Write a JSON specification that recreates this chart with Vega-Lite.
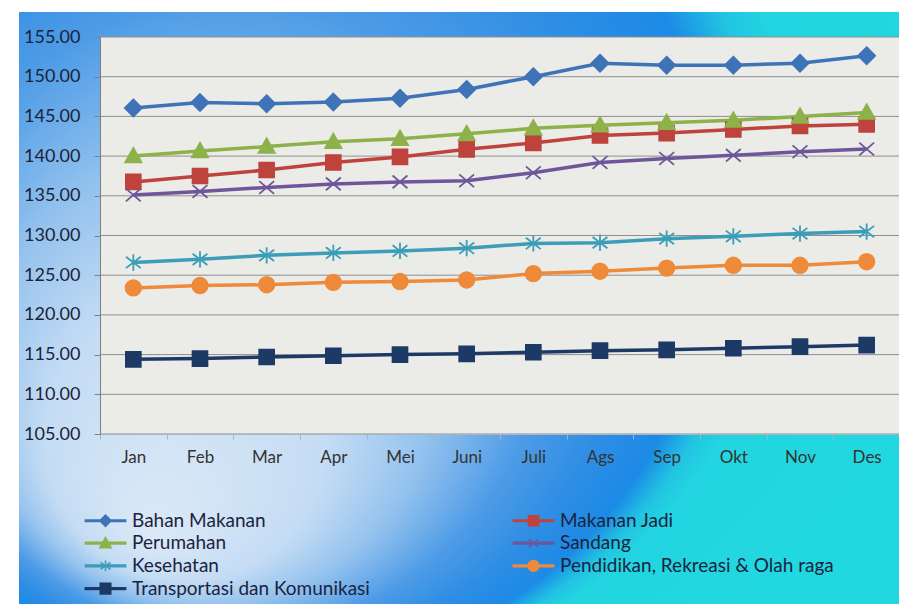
{
  "$schema": "https://vega.github.io/schema/vega-lite/v6.json",
  "width": 880,
  "height": 592,
  "autosize": {"type": "none"},
  "padding": {"left": 19, "top": 12, "right": 0, "bottom": 0},
  "background": "white",
  "config": {
    "font": "Lato",
    "view": {
      "stroke": null,
      "fill": {
        "gradient": "radial",
        "x1": 0.149, "y1": 0.764, "r1": 0,
        "x2": 0.35, "y2": 0.2, "r2": 0.8,
        "stops": [
          {"offset": 0, "color": "#dbe9f7"},
          {"offset": 0.2, "color": "#c4dcf4"},
          {"offset": 0.32, "color": "#94c2ee"},
          {"offset": 0.45, "color": "#4d9be6"},
          {"offset": 0.55, "color": "#2f8ee4"},
          {"offset": 0.64, "color": "#1c8ae6"},
          {"offset": 0.69, "color": "#22c4e2"},
          {"offset": 0.73, "color": "#22d5e0"},
          {"offset": 1, "color": "#22d8e0"}
        ]
      }
    },
    "legend": {
      "title": null, "orient": "none", "legendX": 77, "legendY": 499, "direction": "horizontal", "columns": 2, "columnPadding": 140, "rowPadding": 2.7, "padding": 0,
      "symbolSize": 200, "symbolStrokeWidth": 1.5, "symbolOpacity": 1, "labelOffset": 17, "labelFontSize": 19, "labelColor": "#1c2340", "labelLimit": 400
    }
  },
  "resolve": {"scale": {"color": "independent", "shape": "independent", "stroke": "independent"}},
  "data": {
    "values": [
      {"m": 1, "s": "Bahan Makanan", "v": 146.06},
      {"m": 2, "s": "Bahan Makanan", "v": 146.75},
      {"m": 3, "s": "Bahan Makanan", "v": 146.6},
      {"m": 4, "s": "Bahan Makanan", "v": 146.8},
      {"m": 5, "s": "Bahan Makanan", "v": 147.3},
      {"m": 6, "s": "Bahan Makanan", "v": 148.4},
      {"m": 7, "s": "Bahan Makanan", "v": 150.0},
      {"m": 8, "s": "Bahan Makanan", "v": 151.7},
      {"m": 9, "s": "Bahan Makanan", "v": 151.45},
      {"m": 10, "s": "Bahan Makanan", "v": 151.45},
      {"m": 11, "s": "Bahan Makanan", "v": 151.7},
      {"m": 12, "s": "Bahan Makanan", "v": 152.65},
      {"m": 1, "s": "Makanan Jadi", "v": 136.75},
      {"m": 2, "s": "Makanan Jadi", "v": 137.5},
      {"m": 3, "s": "Makanan Jadi", "v": 138.25},
      {"m": 4, "s": "Makanan Jadi", "v": 139.2},
      {"m": 5, "s": "Makanan Jadi", "v": 139.9},
      {"m": 6, "s": "Makanan Jadi", "v": 140.85},
      {"m": 7, "s": "Makanan Jadi", "v": 141.66},
      {"m": 8, "s": "Makanan Jadi", "v": 142.6},
      {"m": 9, "s": "Makanan Jadi", "v": 142.9},
      {"m": 10, "s": "Makanan Jadi", "v": 143.35},
      {"m": 11, "s": "Makanan Jadi", "v": 143.8},
      {"m": 12, "s": "Makanan Jadi", "v": 144.0},
      {"m": 1, "s": "Perumahan", "v": 140.0},
      {"m": 2, "s": "Perumahan", "v": 140.65},
      {"m": 3, "s": "Perumahan", "v": 141.2},
      {"m": 4, "s": "Perumahan", "v": 141.8},
      {"m": 5, "s": "Perumahan", "v": 142.2},
      {"m": 6, "s": "Perumahan", "v": 142.8},
      {"m": 7, "s": "Perumahan", "v": 143.5},
      {"m": 8, "s": "Perumahan", "v": 143.9},
      {"m": 9, "s": "Perumahan", "v": 144.2},
      {"m": 10, "s": "Perumahan", "v": 144.5},
      {"m": 11, "s": "Perumahan", "v": 145.0},
      {"m": 12, "s": "Perumahan", "v": 145.5},
      {"m": 1, "s": "Sandang", "v": 135.1},
      {"m": 2, "s": "Sandang", "v": 135.55},
      {"m": 3, "s": "Sandang", "v": 136.05},
      {"m": 4, "s": "Sandang", "v": 136.5},
      {"m": 5, "s": "Sandang", "v": 136.75},
      {"m": 6, "s": "Sandang", "v": 136.9},
      {"m": 7, "s": "Sandang", "v": 137.9},
      {"m": 8, "s": "Sandang", "v": 139.2},
      {"m": 9, "s": "Sandang", "v": 139.7},
      {"m": 10, "s": "Sandang", "v": 140.1},
      {"m": 11, "s": "Sandang", "v": 140.55},
      {"m": 12, "s": "Sandang", "v": 140.9},
      {"m": 1, "s": "Kesehatan", "v": 126.6},
      {"m": 2, "s": "Kesehatan", "v": 127.0},
      {"m": 3, "s": "Kesehatan", "v": 127.5},
      {"m": 4, "s": "Kesehatan", "v": 127.8},
      {"m": 5, "s": "Kesehatan", "v": 128.05},
      {"m": 6, "s": "Kesehatan", "v": 128.4},
      {"m": 7, "s": "Kesehatan", "v": 129.0},
      {"m": 8, "s": "Kesehatan", "v": 129.1},
      {"m": 9, "s": "Kesehatan", "v": 129.6},
      {"m": 10, "s": "Kesehatan", "v": 129.9},
      {"m": 11, "s": "Kesehatan", "v": 130.25},
      {"m": 12, "s": "Kesehatan", "v": 130.5},
      {"m": 1, "s": "Pendidikan, Rekreasi & Olah raga", "v": 123.4},
      {"m": 2, "s": "Pendidikan, Rekreasi & Olah raga", "v": 123.7},
      {"m": 3, "s": "Pendidikan, Rekreasi & Olah raga", "v": 123.8},
      {"m": 4, "s": "Pendidikan, Rekreasi & Olah raga", "v": 124.1},
      {"m": 5, "s": "Pendidikan, Rekreasi & Olah raga", "v": 124.2},
      {"m": 6, "s": "Pendidikan, Rekreasi & Olah raga", "v": 124.4},
      {"m": 7, "s": "Pendidikan, Rekreasi & Olah raga", "v": 125.2},
      {"m": 8, "s": "Pendidikan, Rekreasi & Olah raga", "v": 125.5},
      {"m": 9, "s": "Pendidikan, Rekreasi & Olah raga", "v": 125.9},
      {"m": 10, "s": "Pendidikan, Rekreasi & Olah raga", "v": 126.25},
      {"m": 11, "s": "Pendidikan, Rekreasi & Olah raga", "v": 126.25},
      {"m": 12, "s": "Pendidikan, Rekreasi & Olah raga", "v": 126.7},
      {"m": 1, "s": "Transportasi dan Komunikasi", "v": 114.4},
      {"m": 2, "s": "Transportasi dan Komunikasi", "v": 114.5},
      {"m": 3, "s": "Transportasi dan Komunikasi", "v": 114.7},
      {"m": 4, "s": "Transportasi dan Komunikasi", "v": 114.85},
      {"m": 5, "s": "Transportasi dan Komunikasi", "v": 115.0},
      {"m": 6, "s": "Transportasi dan Komunikasi", "v": 115.1},
      {"m": 7, "s": "Transportasi dan Komunikasi", "v": 115.3},
      {"m": 8, "s": "Transportasi dan Komunikasi", "v": 115.5},
      {"m": 9, "s": "Transportasi dan Komunikasi", "v": 115.6},
      {"m": 10, "s": "Transportasi dan Komunikasi", "v": 115.8},
      {"m": 11, "s": "Transportasi dan Komunikasi", "v": 116.0},
      {"m": 12, "s": "Transportasi dan Komunikasi", "v": 116.2}
    ]
  },
  "layer": [
    {
      "data": {"values": [{}]},
      "mark": {"type": "rect", "fill": "#ebebe8"},
      "encoding": {
        "x": {"datum": 0.5, "type": "quantitative", "scale": {"domain": [0.5, 12.5], "range": [81, 881], "nice": false, "zero": false},
          "axis": {"title": null, "values": [1,2,3,4,5,6,7,8,9,10,11,12], "labelExpr": "['Jan','Feb','Mar','Apr','Mei','Juni','Juli','Ags','Sep','Okt','Nov','Des'][datum.value-1]", "offset": -170, "grid": false, "zindex": 1, "domainColor": "#a8b4c4", "tickColor": "#a8b4c4", "tickSize": 5, "tickOffset": -33.333, "labelOffset": 33.333, "labelPadding": 10, "labelFontSize": 17, "labelColor": "#333333", "labelFlush": false, "labelOverlap": false, "labelBound": false}},
        "x2": {"datum": 12.5},
        "y": {"datum": 105, "type": "quantitative", "scale": {"domain": [105, 155], "range": [422, 25], "nice": false, "zero": false},
          "axis": {"title": null, "values": [105,110,115,120,125,130,135,140,145,150,155], "format": ".2f", "offset": -81, "grid": false, "zindex": 1, "domainColor": "#7f7f7f", "tickColor": "#7f7f7f", "tickSize": 6, "labelPadding": 14, "labelFontSize": 18, "labelColor": "#1c2238", "labelOverlap": false, "labelFlush": false}},
        "y2": {"datum": 155}
      }
    },
    {
      "data": {"values": [{"g": 105}, {"g": 110}, {"g": 115}, {"g": 120}, {"g": 125}, {"g": 130}, {"g": 135}, {"g": 140}, {"g": 145}, {"g": 150}, {"g": 155}]},
      "mark": {"type": "rule", "color": "#8f8f8f", "strokeWidth": 1},
      "encoding": {
        "x": {"datum": 0.5, "type": "quantitative"},
        "x2": {"datum": 12.5},
        "y": {"field": "g", "type": "quantitative"}
      }
    },
    {
      "mark": {"type": "line", "strokeWidth": 3.5},
      "encoding": {
        "x": {"field": "m", "type": "quantitative"},
        "y": {"field": "v", "type": "quantitative"},
        "color": {
          "field": "s", "type": "nominal", "legend": null,
          "scale": {
            "domain": ["Bahan Makanan", "Makanan Jadi", "Perumahan", "Sandang", "Kesehatan", "Pendidikan, Rekreasi & Olah raga", "Transportasi dan Komunikasi"],
            "range": ["#3f73b8", "#bf433d", "#8db24a", "#6f559a", "#3b9db7", "#ee8a3a", "#1d3a66"]
          }
        }
      }
    },
    {
      "mark": {"type": "point", "filled": true, "size": 200, "strokeWidth": 1.8, "opacity": 1},
      "encoding": {
        "x": {"field": "m", "type": "quantitative"},
        "y": {"field": "v", "type": "quantitative"},
        "color": {
          "field": "s", "type": "nominal", "legend": null,
          "scale": {
            "domain": ["Bahan Makanan", "Makanan Jadi", "Perumahan", "Sandang", "Kesehatan", "Pendidikan, Rekreasi & Olah raga", "Transportasi dan Komunikasi"],
            "range": ["#3f73b8", "#bf433d", "#8db24a", "#6f559a", "#3b9db7", "#ee8a3a", "#1d3a66"]
          }
        },
        "stroke": {
          "field": "s", "type": "nominal", "legend": null,
          "scale": {
            "domain": ["Bahan Makanan", "Makanan Jadi", "Perumahan", "Sandang", "Kesehatan", "Pendidikan, Rekreasi & Olah raga", "Transportasi dan Komunikasi"],
            "range": ["#3f73b8", "#bf433d", "#8db24a", "#6f559a", "#3b9db7", "#ee8a3a", "#1d3a66"]
          }
        },
        "shape": {
          "field": "s", "type": "nominal", "legend": null,
          "scale": {
            "domain": ["Bahan Makanan", "Makanan Jadi", "Perumahan", "Sandang", "Kesehatan", "Pendidikan, Rekreasi & Olah raga", "Transportasi dan Komunikasi"],
            "range": [
              "M0,-1.2L1.2,0L0,1.2L-1.2,0Z",
              "M-1.05,-1.05H1.05V1.05H-1.05Z",
              "M0,-1.15L1.15,0.9H-1.15Z",
              "M-1.05,-0.9L1.05,0.9M-1.05,0.9L1.05,-0.9",
              "M-1.05,-0.8L1.05,0.8M-1.05,0.8L1.05,-0.8M0,-1.15V1.15",
              "M1.1,0A1.1,1.1,0,1,1,-1.1,0A1.1,1.1,0,1,1,1.1,0Z",
              "M-1.05,-1.05H1.05V1.05H-1.05Z"
            ]
          }
        }
      }
    },
    {
      "mark": {"type": "point", "filled": true, "size": 200, "opacity": 0},
      "encoding": {
        "x": {"field": "m", "type": "quantitative"},
        "y": {"field": "v", "type": "quantitative"},
        "color": {
          "field": "s", "type": "nominal",
          "scale": {
            "domain": ["Bahan Makanan", "Makanan Jadi", "Perumahan", "Sandang", "Kesehatan", "Pendidikan, Rekreasi & Olah raga", "Transportasi dan Komunikasi"],
            "range": ["#3f73b8", "#bf433d", "#8db24a", "#6f559a", "#3b9db7", "#ee8a3a", "#1d3a66"]
          }
        },
        "stroke": {
          "field": "s", "type": "nominal",
          "scale": {
            "domain": ["Bahan Makanan", "Makanan Jadi", "Perumahan", "Sandang", "Kesehatan", "Pendidikan, Rekreasi & Olah raga", "Transportasi dan Komunikasi"],
            "range": ["#3f73b8", "#bf433d", "#8db24a", "#6f559a", "#3b9db7", "#ee8a3a", "#1d3a66"]
          }
        },
        "shape": {
          "field": "s", "type": "nominal",
          "scale": {
            "domain": ["Bahan Makanan", "Makanan Jadi", "Perumahan", "Sandang", "Kesehatan", "Pendidikan, Rekreasi & Olah raga", "Transportasi dan Komunikasi"],
            "range": [
              "M-2.85,-0.12H2.85V0.12H-2.85Z M0,-0.8L0.8,0L0,0.8L-0.8,0Z",
              "M-2.85,-0.12H2.85V0.12H-2.85Z M-0.72,-0.72H0.72V0.72H-0.72Z",
              "M-2.85,-0.12H2.85V0.12H-2.85Z M0,-0.8L0.8,0.65H-0.8Z",
              "M-2.85,-0.12H2.85V0.12H-2.85Z M-0.7,-0.55L0.7,0.55M-0.7,0.55L0.7,-0.55",
              "M-2.85,-0.12H2.85V0.12H-2.85Z M-0.7,-0.5L0.7,0.5M-0.7,0.5L0.7,-0.5M0,-0.75V0.75",
              "M-2.85,-0.12H2.85V0.12H-2.85Z M0.75,0A0.75,0.75,0,1,1,-0.75,0A0.75,0.75,0,1,1,0.75,0Z",
              "M-2.85,-0.12H2.85V0.12H-2.85Z M-0.75,-0.75H0.75V0.75H-0.75Z"
            ]
          }
        }
      }
    }
  ]
}
